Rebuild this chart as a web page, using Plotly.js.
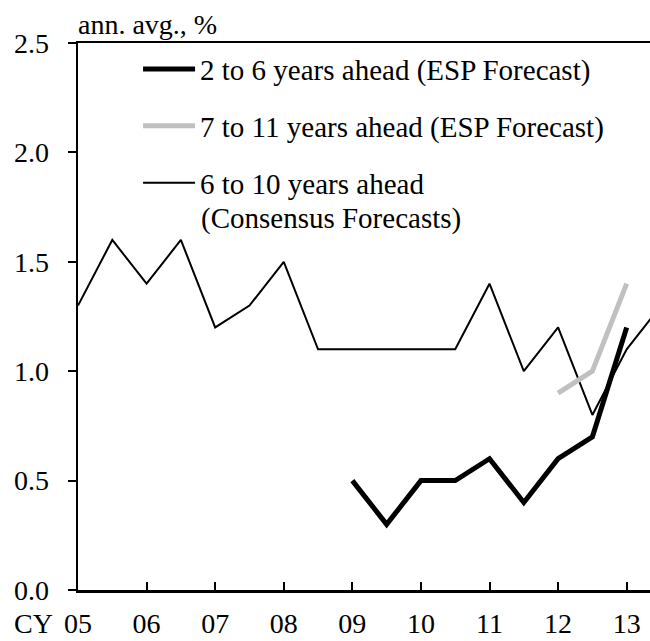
<!DOCTYPE html>
<html>
<head>
<meta charset="utf-8">
<script src="https://cdn.plot.ly/plotly-3.0.1.min.js"></script>
<style>
  html, body { margin: 0; padding: 0; background: #fff; }
  #chart { width: 650px; height: 641px; }
</style>
</head>
<body>
<div id="chart"></div>
<script>
// Half-year points (05 = CY2005, 05.5 = mid 2005, ...)
const xConsensus = [5, 5.5, 6, 6.5, 7, 7.5, 8, 8.5, 9, 9.5, 10, 10.5, 11, 11.5, 12, 12.5, 13, 13.5];
const consensus6to10 = [1.3, 1.6, 1.4, 1.6, 1.2, 1.3, 1.5, 1.1, 1.1, 1.1, 1.1, 1.1, 1.4, 1.0, 1.2, 0.8, 1.1, 1.3];

const xEsp2to6 = [9, 9.5, 10, 10.5, 11, 11.5, 12, 12.5, 13];
const esp2to6 = [0.5, 0.3, 0.5, 0.5, 0.6, 0.4, 0.6, 0.7, 1.2];

const xEsp7to11 = [12, 12.5, 13];
const esp7to11 = [0.9, 1.0, 1.4];

const xTickVals = [5, 6, 7, 8, 9, 10, 11, 12, 13];
const xTickText = ["05", "06", "07", "08", "09", "10", "11", "12", "13"];

const names = [
  "2 to 6 years ahead (ESP Forecast)",
  "7 to 11 years ahead (ESP Forecast)",
  "6 to 10 years ahead"
];
const name3SecondLine = "(Consensus Forecasts)";

const FONT = "Liberation Serif, Times New Roman, serif";
const FS = 28;
const LFS = 29;

const traces = [
  {
    x: xConsensus, y: consensus6to10, type: "scatter", mode: "lines",
    name: names[2], legend: "legend3",
    line: { color: "#000000", width: 2 }
  },
  {
    x: xEsp7to11, y: esp7to11, type: "scatter", mode: "lines",
    name: names[1], legend: "legend2",
    line: { color: "#C0C0C0", width: 5 }
  },
  {
    x: xEsp2to6, y: esp2to6, type: "scatter", mode: "lines",
    name: names[0], legend: "legend",
    line: { color: "#000000", width: 5 }
  }
];

const legendBase = {
  xanchor: "left", yanchor: "top",
  bgcolor: "rgba(0,0,0,0)", borderwidth: 0,
  font: { family: FONT, size: LFS, color: "#000" },
  valign: "top", itemwidth: 52
};

const layout = {
  width: 650, height: 641,
  margin: { l: 78, r: 0, t: 43, b: 51 },
  paper_bgcolor: "#fff", plot_bgcolor: "#fff",
  font: { family: FONT, size: FS, color: "#000" },
  showlegend: true,
  hovermode: false,
  legend: Object.assign({}, legendBase, { x: 0.105, y: 0.999 }),
  legend2: Object.assign({}, legendBase, { x: 0.105, y: 0.895 }),
  legend3: Object.assign({}, legendBase, { x: 0.105, y: 0.791 }),
  xaxis: {
    range: [5, 13.34],
    tickvals: xTickVals, ticktext: xTickText,
    ticks: "inside", ticklen: 8, tickwidth: 2, tickcolor: "#000",
    showline: true, linecolor: "#000", linewidth: 2.5,
    mirror: true,
    showgrid: false, zeroline: false,
    tickfont: { family: FONT, size: FS, color: "#000" },
    ticklabelstandoff: 7
  },
  yaxis: {
    range: [0, 2.5],
    tickvals: [0, 0.5, 1.0, 1.5, 2.0, 2.5],
    tickformat: ".1f",
    ticks: "outside", ticklen: 8, tickwidth: 2, tickcolor: "#000",
    showline: true, linecolor: "#000", linewidth: 2.5,
    showgrid: false, zeroline: false,
    tickfont: { family: FONT, size: FS, color: "#000" },
    ticklabelstandoff: 13
  },
  annotations: [
    {
      text: "ann. avg., %", xref: "paper", yref: "paper",
      x: 0, y: 1, xanchor: "left", yanchor: "bottom", yshift: 1, xshift: -2,
      showarrow: false, font: { family: FONT, size: FS, color: "#000" }
    },
    {
      text: "CY", xref: "x", yref: "paper",
      x: 5, y: 0, xanchor: "right", yanchor: "top",
      xshift: -23, yshift: -16,
      showarrow: false, font: { family: FONT, size: FS, color: "#000" }
    },
    {
      text: name3SecondLine, xref: "paper", yref: "paper",
      x: 0.2115, y: 0.680, xanchor: "left", yanchor: "middle",
      showarrow: false, font: { family: FONT, size: LFS, color: "#000" }
    }
  ]
};

Plotly.newPlot("chart", traces, layout, { displayModeBar: false, staticPlot: true });
</script>
</body>
</html>
